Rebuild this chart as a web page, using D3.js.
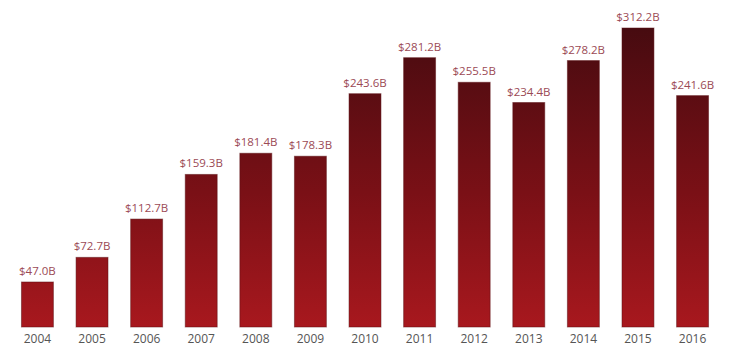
<!DOCTYPE html>
<html>
<head>
<meta charset="utf-8">
<title>bars</title>
<script src="https://cdn.jsdelivr.net/npm/d3@7"></script>
<style>
  body { margin: 0; background: #fff; }
  svg text { font-family: "Open Sans", sans-serif; }
</style>
</head>
<body>
<script>
var years = ["2004","2005","2006","2007","2008","2009","2010","2011","2012","2013","2014","2015","2016"];
var values = [47.0, 72.7, 112.7, 159.3, 181.4, 178.3, 243.6, 281.2, 255.5, 234.4, 278.2, 312.2, 241.6];

var width = 731, height = 353;
var svg = d3.select("body").append("svg")
    .attr("width", width)
    .attr("height", height);

var x = d3.scaleBand()
    .domain(years)
    .range([4, 726])
    .paddingInner(0.415)
    .paddingOuter(0.32);

var y = d3.scaleLinear()
    .domain([0, 312.2])
    .range([327, 28]);

var grad = svg.append("defs").append("linearGradient")
    .attr("id", "barGrad")
    .attr("gradientUnits", "userSpaceOnUse")
    .attr("x1", 0).attr("x2", 0)
    .attr("y1", y(312.2)).attr("y2", y(0));
grad.append("stop").attr("offset", "0%").attr("stop-color", "#470b10");
grad.append("stop").attr("offset", "55%").attr("stop-color", "#7a1016");
grad.append("stop").attr("offset", "100%").attr("stop-color", "#a8181e");

svg.selectAll("rect.bar")
    .data(values)
  .enter().append("rect")
    .attr("class", "bar")
    .attr("x", function(d, i) { return x(years[i]); })
    .attr("y", function(d) { return y(d); })
    .attr("width", x.bandwidth())
    .attr("height", function(d) { return y(0) - y(d); })
    .attr("fill", "url(#barGrad)")
    .attr("stroke", "#5a0d12")
    .attr("stroke-opacity", 0.5)
    .attr("stroke-width", 1);

svg.selectAll("text.val")
    .data(values)
  .enter().append("text")
    .attr("class", "val")
    .attr("x", function(d, i) { return x(years[i]) + x.bandwidth() / 2; })
    .attr("y", function(d) { return y(d) - 7; })
    .attr("text-anchor", "middle")
    .attr("font-size", 11.5)
    .attr("fill", "#9b4a55")
    .text(function(d) { return "$" + d.toFixed(1) + "B"; });

var xAxis = d3.axisBottom(x).tickSize(0).tickPadding(0);
var gx = svg.append("g")
    .attr("transform", "translate(0," + 334 + ")")
    .call(xAxis);
gx.select(".domain").remove();
gx.selectAll("text")
    .attr("dy", "0.71em")
    .attr("font-size", 12)
    .attr("fill", "#555")
    .attr("font-family", "Open Sans, sans-serif");
</script>
</body>
</html>
